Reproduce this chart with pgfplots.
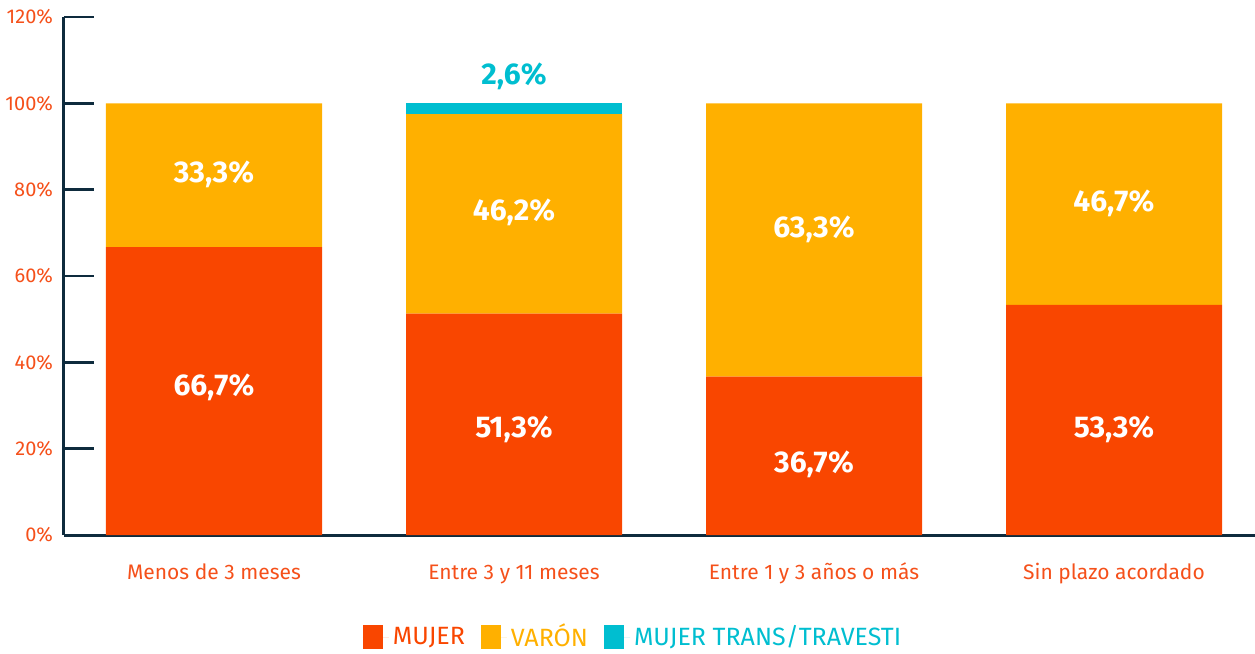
\documentclass[border=0pt]{standalone}
\usepackage{fontspec}
\setmainfont{Fira Sans}
\usepackage{pgfplots}
\pgfplotsset{compat=1.18}

\definecolor{cMujer}{HTML}{F94600}
\definecolor{cVaron}{HTML}{FFB000}
\definecolor{cTrans}{HTML}{00BED0}
\definecolor{cNavy}{HTML}{0E2B3D}
\definecolor{cText}{HTML}{F5501A}

\tikzset{barlbl/.style={font=\bfseries\fontsize{15}{17}\selectfont, text=white}}
\pgfplotsset{frame/.style={scale only axis, width=595.5pt, height=259pt,
  xmin=-0.5, xmax=3.47, ymin=0, ymax=120, clip=false}}

\begin{document}
\begin{tikzpicture}
\useasboundingbox (-32pt,-59.5pt) rectangle (595.5pt,267.5pt);
\begin{axis}[
  frame,
  ybar stacked,
  bar width=0.72,
  axis x line=bottom, axis y line=left,
  axis line style={-, cNavy, line width=1.5pt},
  tick align=inside,
  major tick style={cNavy, line width=1.3pt},
  ytick={0,20,40,60,80,100,120},
  yticklabels={0\%,20\%,40\%,60\%,80\%,100\%,120\%},
  major tick length=15pt,
  yticklabel style={text=cText, font=\fontsize{10}{12}\selectfont, xshift=-2pt},
  xtick={0,1,2,3},
  xticklabels={Menos de 3 meses, Entre 3 y 11 meses, Entre 1 y 3 años o más, Sin plazo acordado},
  xticklabel style={text=cText, font=\fontsize{10.5}{12}\selectfont, yshift=-10.5pt,
    text height=1.6ex, text depth=0pt},
  x tick style={draw=none},
  extra x ticks={0.5,1.5,2.5},
  extra x tick labels={},
  extra x tick style={major tick length=6pt, tick style={draw=cNavy}},
  legend columns=3,
  legend style={draw=none, fill=none, at={(0.4786,0)}, anchor=center, yshift=-51pt,
    font=\fontsize{12.5}{14}\selectfont,
    /tikz/every even column/.append style={column sep=6pt}},
  legend image code/.code={\draw[#1, draw=none] (0pt,-6pt) rectangle (10pt,6pt);
    \path (0pt,0pt) -- (13pt,0pt);},
]
\addplot[fill=cMujer, draw=none] coordinates {(0,66.7) (1,51.3) (2,36.7) (3,53.3)};
\addlegendentry{\textcolor{cMujer}{MUJER}}
\addplot[fill=cVaron, draw=none] coordinates {(0,33.3) (1,46.2) (2,63.3) (3,46.7)};
\addlegendentry{\textcolor{cVaron}{VARÓN}}
\addplot[fill=cTrans, draw=none] coordinates {(0,0) (1,2.6) (2,0) (3,0)};
\addlegendentry{\textcolor{cTrans}{MUJER TRANS/TRAVESTI}}
\end{axis}

% value labels, drawn over the bars
\begin{axis}[frame, hide axis]
\node[barlbl] at (axis cs:0,34.3) {66,7\%};
\node[barlbl] at (axis cs:0,83.6) {33,3\%};
\node[barlbl] at (axis cs:1,24.5) {51,3\%};
\node[barlbl] at (axis cs:1,74.8) {46,2\%};
\node[barlbl, text=cTrans] at (axis cs:1,106.2) {2,6\%};
\node[barlbl] at (axis cs:2,16.3) {36,7\%};
\node[barlbl] at (axis cs:2,70.8) {63,3\%};
\node[barlbl] at (axis cs:3,24.5) {53,3\%};
\node[barlbl] at (axis cs:3,76.9) {46,7\%};
\end{axis}
\end{tikzpicture}
\end{document}
